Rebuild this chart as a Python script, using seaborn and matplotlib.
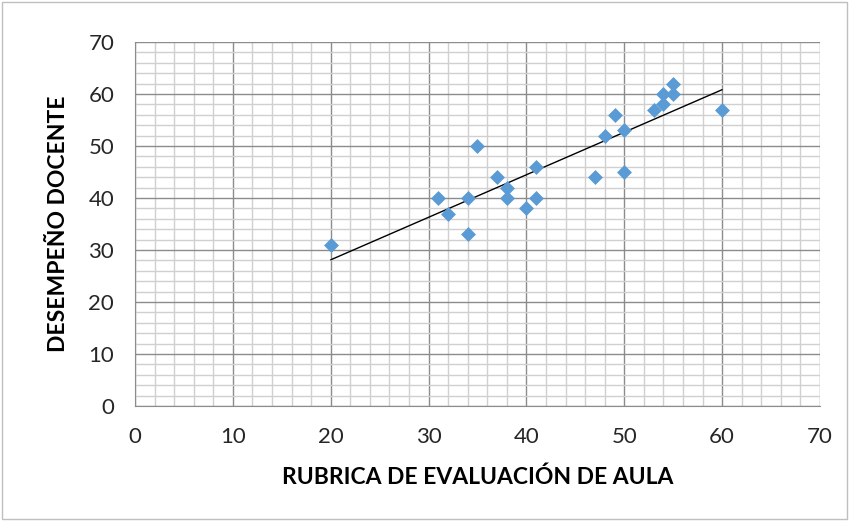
import seaborn as sns
import matplotlib.pyplot as plt
import matplotlib.patches as patches
from matplotlib.ticker import MultipleLocator
import pandas as pd

# Data
rubrica = [20, 31, 32, 34, 34, 35, 37, 38, 38, 40, 41, 41,
           47, 48, 49, 50, 50, 53, 54, 54, 55, 55, 60]
desempeno = [31, 40, 37, 40, 33, 50, 44, 42, 40, 38, 46, 40,
             44, 52, 56, 53, 45, 57, 60, 58, 62, 60, 57]

df = pd.DataFrame({"rubrica": rubrica, "desempeno": desempeno})

sns.set_style("white")
plt.rcParams["font.family"] = ["Lato", "DejaVu Sans"]

fig = plt.figure(figsize=(8.49, 5.21), dpi=100)
ax = fig.add_axes([135 / 849, 1 - 406 / 521, 685 / 849, 364 / 521])

# Outer chart border
fig.patches.append(patches.Rectangle((0.002, 0.003), 0.996, 0.994, transform=fig.transFigure,
                                     fill=False, edgecolor="#bfbfbf", linewidth=1))

# Scatter points
sns.scatterplot(x="rubrica", y="desempeno", data=df, marker="D", s=58,
                color="#5b9bd5", linewidth=0, ax=ax, zorder=3)

# Linear trend line
sns.regplot(x="rubrica", y="desempeno", data=df, scatter=False, ci=None,
            truncate=True, line_kws={"color": "black", "linewidth": 1}, ax=ax)

ax.set_xlim(0, 70)
ax.set_ylim(0, 70)
ax.xaxis.set_major_locator(MultipleLocator(10))
ax.yaxis.set_major_locator(MultipleLocator(10))
ax.xaxis.set_minor_locator(MultipleLocator(2))
ax.yaxis.set_minor_locator(MultipleLocator(2))

ax.grid(which="major", color="#8c8c8c", linewidth=1)
ax.grid(which="minor", color="#d0d0d0", linewidth=1)
ax.set_axisbelow(True)

for side in ["left", "bottom"]:
    ax.spines[side].set_color("#8c8c8c")
for side in ["top", "right"]:
    ax.spines[side].set_visible(False)

ax.tick_params(which="major", direction="out", length=6, width=1, color="#8c8c8c",
               labelsize=16, labelcolor="#262626", pad=9)
ax.tick_params(which="minor", length=0)

ax.set_xlabel("RUBRICA DE EVALUACIÓN DE AULA", fontsize=16.5, fontweight="bold",
              color="black", labelpad=14)
ax.set_ylabel("DESEMPEÑO DOCENTE", fontsize=16.5, fontweight="bold",
              color="black", labelpad=14)

fig.savefig("out.png", dpi=100)
